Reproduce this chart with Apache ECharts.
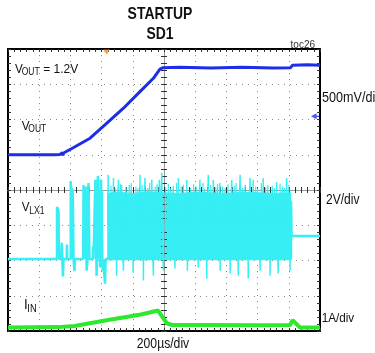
<!DOCTYPE html>
<html>
<head>
<meta charset="utf-8">
<title>STARTUP SD1</title>
<script src="https://cdn.jsdelivr.net/npm/echarts@6/dist/echarts.min.js"></script>
<style>
  html, body { margin: 0; padding: 0; background: #fff; }
  #chart { width: 375px; height: 353px; }
</style>
</head>
<body>
<div id="chart"></div>
<script>
// scope screen in divisions: x -5..5 (200us/div), y -4..4
const B = -1.96; // LX1 ground level

// VOUT (500mV/div)
const voutT = [-5, -3.5, -3.33, -3.26, -3.24, -3.22, -3.17, -2.91, -2.37, -1.84, -1.30, -0.77, -0.34, -0.13, -0.03, 0.5, 1.5, 2.5, 3.5, 4.06, 4.12, 4.6, 5];
const voutV = [1.0, 1.0, 1.01, 1.06, 0.98, 1.05, 1.09, 1.20, 1.47, 1.89, 2.32, 2.79, 3.17, 3.43, 3.47, 3.48, 3.46, 3.48, 3.46, 3.47, 3.54, 3.55, 3.54];

// LX1 (2V/div): idle level, first bursts, level after switching stops
const lxT = [-5, -3.43, -3.43, -3.38, -3.37, -3.30, -3.28, -3.26, -3.24, -3.22, -3.12, -3.11, -3.10,
  -2.99, -2.99, -2.96, -2.94, -2.92, -2.90, -2.87, -2.85, -2.59, -2.58, -2.55, -2.50, -2.48, -2.45, -2.42, -2.39,
  -2.28, -2.27, -2.26, -2.21, -2.20, -2.16, -2.12, -2.05, -2.02, -1.97, -1.95, -1.89, -1.89, -1.87,
  4.07, 4.07, 4.09, 5];
const lxV = [B, B, -0.48, -0.6, B, B, -1.5, B, -2.45, B, B, -1.55, B,
  B, 0.24, -0.2, 0.05, -0.3, B, -2.3, B, B, 0.14, B, 0.1, -2.29, B, 0.2, B,
  B, -1.6, B, B, 0.29, -2.43, 0.4, -2.2, 0.3, -2.3, B, B, -2.66, B,
  B, -0.3, -1.305, -1.305];

// LX1 dense switching band (top edge), '-' = gap
const lxBandT = [-2.99, -2.90, -2.7, -2.59, -2.39, -2.3, -2.21, -1.95, -1.9, -1.82, -1.5, -1.0, -0.5, 0, 0.5, 1.0, 1.5, 2.0, 2.5, 3.0, 3.5, 4.07];
const lxBandV = [-0.05, -0.05, '-', -0.03, -0.03, '-', -0.05, -0.05, '-', -0.1, -0.06, -0.1, -0.05, -0.08, -0.1, -0.06, -0.08, -0.1, -0.06, -0.08, -0.1, -0.08];

// LX1 spike tips above the band and below ground
const lxSpikeT = [-1.79, -1.62, -1.52, -1.46, -1.36, -1.30, -1.11, -0.99, -0.77, -0.66, -0.61, -0.39, -0.34, -0.15, -0.07,
  -0.02, 0.35, 0.46, 0.73, 0.75, 1.10, 1.15, 1.37, 1.42, 1.58, 1.79, 1.80, 2.12, 2.17, 2.38,
  2.44, 2.70, 2.76, 2.86, 3.08, 3.18, 3.40, 3.61, 3.66, 3.93, 4.04];
const lxSpikeV = [0.43, 0.34, -2.43, 0.29, 0.14, -2.29, 0.14, -2.35, 0.43, -2.57, 0.34, 0.29, -2.43, 0.29, 0.49,
  -2.29, -2.23, 0.34, 0.29, -2.29, -2.2, 0.29, -2.51, 0.43, 0.29, 0.2, -2.29, -2.37, 0.29, -2.43,
  0.43, -2.51, 0.34, 0.29, -2.29, 0.34, -2.43, 0.23, -2.37, 0.34, -2.29];

// LX1 smaller ripple tips along the band top
const lxRippleT = [-1.70, -1.56, -1.40, -1.22, -1.05, -0.90, -0.84, -0.70, -0.52, -0.46, -0.28, -0.22, 0.05, 0.14, 0.22,
  0.30, 0.40, 0.55, 0.62, 0.85, 0.95, 1.03, 1.25, 1.31, 1.50, 1.66, 1.72, 1.88, 1.96, 2.05,
  2.25, 2.31, 2.52, 2.60, 2.94, 3.00, 3.12, 3.26, 3.33, 3.47, 3.54, 3.72, 3.80, 3.86, 4.00];
const lxRippleV = [0.12, 0.05, 0.18, 0.08, 0.2, 0.1, 0.04, 0.15, 0.06, 0.2, 0.1, 0.16, 0.08, 0.18, 0.05,
  0.12, 0.2, 0.1, 0.15, 0.06, 0.16, 0.1, 0.2, 0.05, 0.14, 0.08, 0.18, 0.1, 0.06, 0.16,
  0.12, 0.2, 0.06, 0.15, 0.1, 0.05, 0.2, 0.08, 0.14, 0.12, 0.05, 0.18, 0.1, 0.06, 0.14];

// IIN (1A/div)
const iinT = [-5, -3.4, -2.87, -1.79, -0.74, -0.19, -0.13, 0.09, 0.26, 1.5, 3.0, 4.04, 4.12, 4.36, 5];
const iinV = [-3.90, -3.89, -3.86, -3.69, -3.53, -3.42, -3.45, -3.78, -3.83, -3.83, -3.84, -3.83, -3.69, -3.90, -3.90];

// markers: trigger position (top) and CH1 reference (right)
const trigMark = [[-1.84, 4]];
const ch1Mark = [[5, 2.09]];

const pair = (t, v) => t.map((x, i) => [x, v[i]]);

// each tip drawn as a thin needle out of the band middle
const needles = (ts, vs) => {
  const out = [];
  ts.forEach((t, i) => {
    out.push([t - 0.01, -1.0], [t, vs[i]], [t + 0.01, -1.0]);
  });
  return out;
};

const FONT = '"Liberation Sans", Arial, sans-serif';
const labels = [
  { text: 'STARTUP', x: 160, y: 14.5, size: 17, bold: true, sx: 0.82, align: 'center' },
  { text: 'SD1', x: 160, y: 34, size: 17, bold: true, sx: 0.82, align: 'center' },
  { text: 'toc26', x: 315, y: 45, size: 10, sx: 1, align: 'right', color: '#333' },
  { text: 'V', x: 15, y: 69.5, size: 13, sx: 0.9 },
  { text: 'OUT', x: 21.7, y: 72.7, size: 10, sx: 0.85 },
  { text: '= 1.2V', x: 43.3, y: 69.5, size: 13, sx: 0.92 },
  { text: 'V', x: 21.7, y: 126, size: 13, sx: 0.9 },
  { text: 'OUT', x: 28.3, y: 129.7, size: 10, sx: 0.85 },
  { text: 'V', x: 21.7, y: 207.5, size: 13, sx: 0.9 },
  { text: 'LX1', x: 29.3, y: 211, size: 10, sx: 0.85 },
  { text: 'I', x: 24, y: 305, size: 15, sx: 0.9 },
  { text: 'IN', x: 27.3, y: 309, size: 11, sx: 0.85 },
  { text: '500mV/div', x: 322, y: 98, size: 14, sx: 0.9 },
  { text: '2V/div', x: 326, y: 200, size: 14, sx: 0.86 },
  { text: '1A/div', x: 321.7, y: 318.7, size: 13, sx: 0.9 },
  { text: '200µs/div', x: 163, y: 344.3, size: 14, sx: 0.87, align: 'center' }
];

// graticule: border axes + centre cross with small ticks
const tickStyle = { color: '#333', width: 1 };
function xAx(pos, onZero, inside, grid) {
  return {
    type: 'value', min: -5, max: 5, interval: 1, position: pos, z: 3,
    axisLine: { show: true, onZero: onZero, onZeroAxisIndex: 0,
      lineStyle: onZero ? { color: '#999', width: 1 } : { color: '#000', width: 2 } },
    axisTick: { show: true, inside: inside, length: 3, lineStyle: tickStyle },
    minorTick: { show: true, splitNumber: 5, length: 3, lineStyle: tickStyle },
    axisLabel: { show: false },
    splitLine: { show: grid, lineStyle: { color: '#888', width: 1, type: [1, 5] } }
  };
}
function yAx(pos, onZero, inside, grid) {
  return {
    type: 'value', min: -4, max: 4, interval: 1, position: pos, z: 3,
    axisLine: { show: true, onZero: onZero, onZeroAxisIndex: 0,
      lineStyle: onZero ? { color: '#999', width: 1 } : { color: '#000', width: 2 } },
    axisTick: { show: true, inside: inside, length: 3, lineStyle: tickStyle },
    minorTick: { show: true, splitNumber: 5, length: 3, lineStyle: tickStyle },
    axisLabel: { show: false },
    splitLine: { show: grid, lineStyle: { color: '#888', width: 1, type: [1, 5] } }
  };
}

const chart = echarts.init(document.getElementById('chart'));
chart.setOption({
  animation: false,
  backgroundColor: '#fff',
  grid: { left: 8, right: 55, top: 49, bottom: 22 },
  xAxis: [
    xAx('bottom', false, true, true),
    xAx('top', false, true, false),
    xAx('bottom', true, true, false),
    xAx('bottom', true, false, false)
  ],
  yAxis: [
    yAx('left', false, true, true),
    yAx('right', false, true, false),
    yAx('left', true, true, false),
    yAx('left', true, false, false)
  ],
  series: [
    {
      name: 'LX1 band', type: 'line', data: pair(lxBandT, lxBandV), showSymbol: false,
      lineStyle: { color: '#36eef4', width: 1 },
      areaStyle: { color: '#36eef4', opacity: 1, origin: B }
    },
    {
      name: 'LX1', type: 'line', data: pair(lxT, lxV), showSymbol: false,
      lineStyle: { color: '#36eef4', width: 2.5 }
    },
    {
      name: 'LX1 spikes', type: 'line', data: needles(lxSpikeT, lxSpikeV), showSymbol: false,
      lineStyle: { color: '#36eef4', width: 1.5 }
    },
    {
      name: 'LX1 ripple', type: 'line', data: needles(lxRippleT, lxRippleV), showSymbol: false,
      lineStyle: { color: '#36eef4', width: 1.2 }
    },
    {
      name: 'VOUT', type: 'line', data: pair(voutT, voutV), showSymbol: false,
      lineStyle: { color: '#1c2ee8', width: 3 }
    },
    {
      name: 'IIN', type: 'line', data: pair(iinT, iinV), showSymbol: false,
      lineStyle: { color: '#2ee82e', width: 4 }
    },
    {
      name: 'trigger', type: 'scatter', data: trigMark, clip: false, z: 5,
      symbol: 'path://M0,0 L10,0 L5,8 Z', symbolSize: [7, 5], symbolOffset: [0, 3],
      itemStyle: { color: '#f08a2a' }
    },
    {
      name: 'ch1 ref', type: 'scatter', data: ch1Mark, clip: false, z: 5,
      symbol: 'path://M0,5 L7,0 L7,4 L10,4 L10,6 L7,6 L7,10 Z', symbolSize: [8, 6], symbolOffset: [-5, 0],
      itemStyle: { color: '#1c2ee8' }
    }
  ],
  graphic: {
    elements: labels.map((l) => ({
      type: 'text', x: l.x, y: l.y, scaleX: l.sx, z: 10,
      style: {
        text: l.text, x: 0, y: 0,
        font: (l.bold ? 'bold ' : '') + l.size + 'px ' + FONT,
        fill: l.color || '#111',
        align: l.align || 'left', verticalAlign: 'middle',
        textAlign: l.align || 'left', textVerticalAlign: 'middle'
      }
    }))
  }
});
</script>
</body>
</html>
